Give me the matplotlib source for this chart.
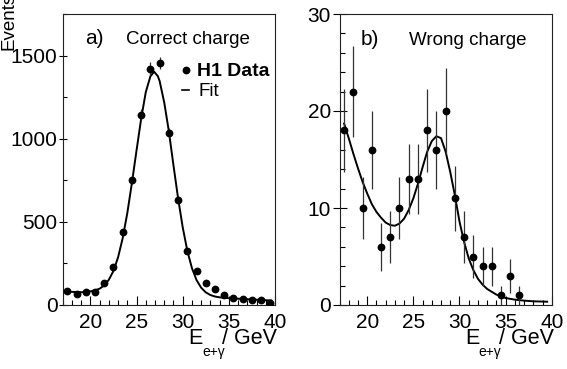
import matplotlib
matplotlib.use('Agg')
import matplotlib.pyplot as plt
from matplotlib.lines import Line2D
from matplotlib.ticker import MultipleLocator

plt.rcParams['font.family'] = ['Liberation Sans', 'DejaVu Sans']

# ---------------- data ----------------
# panel a) correct charge
x_a = [17.5, 18.5, 19.5, 20.5, 21.5, 22.5, 23.5, 24.5, 25.5, 26.5, 27.5, 28.5,
       29.5, 30.5, 31.5, 32.5, 33.5, 34.5, 35.5, 36.5, 37.5, 38.5, 39.5]
y_a = [84, 66, 76, 80, 132, 230, 436, 754, 1144, 1422, 1456, 1034,
       632, 326, 202, 134, 96, 58, 40, 36, 28, 28, 14]
err_a = [9.2, 8.1, 8.7, 8.9, 11.5, 15.2, 20.9, 27.5, 33.8, 37.7, 38.2, 32.2,
         25.1, 18.1, 14.2, 11.6, 9.8, 7.6, 6.3, 6.0, 5.3, 5.3, 3.7]
fit_a_x = [17.5, 18, 18.5, 19, 19.5, 20, 20.5, 21, 21.5, 22, 22.5, 23, 23.5, 24,
           24.5, 25, 25.5, 26, 26.5, 26.9, 27.3, 27.5, 28, 28.5, 29, 29.5, 30,
           30.5, 31, 31.5, 32, 32.5, 33, 33.5, 34, 35, 36, 37, 38, 39, 39.6]
fit_a_y = [80, 79, 78, 77, 77, 82, 88, 98, 118, 152, 205, 287, 402, 553,
           735, 930, 1120, 1280, 1375, 1403, 1377, 1347, 1218, 1045, 840, 642, 468,
           326, 222, 150, 104, 76, 60, 51, 46, 41, 38, 35, 32, 29, 27]

# panel b) wrong charge
x_b = [17.5, 18.5, 19.5, 20.5, 21.5, 22.5, 23.5, 24.5, 25.5, 26.5, 27.5, 28.5,
       29.5, 30.5, 31.5, 32.5, 33.5, 34.5, 35.5, 36.5]
y_b = [18, 22, 10, 16, 6, 7, 10, 13, 13, 18, 16, 20, 11, 7, 5, 4, 4, 1, 3, 1]
err_b = [4.24, 4.69, 3.16, 4.0, 2.45, 2.65, 3.16, 3.61, 3.61, 4.24, 4.0, 4.47,
         3.32, 2.65, 2.24, 2.0, 2.0, 1.0, 1.73, 1.0]
fit_b_x = [17.5, 18, 18.5, 19, 19.5, 20, 20.5, 21, 21.5, 22, 22.5, 23, 23.5, 24,
           24.5, 25, 25.5, 26, 26.5, 27, 27.5, 28, 28.5, 29, 29.5, 30, 30.5, 31,
           31.5, 32, 32.5, 33, 34, 35, 36, 37, 38, 39.5]
fit_b_y = [18.7, 17.2, 15.6, 14.1, 12.7, 11.5, 10.4, 9.6, 9.0, 8.5, 8.24, 8.17,
           8.4, 8.9, 9.8, 11.0, 12.5, 14.2, 15.8, 16.9, 17.4, 17.2, 15.8, 13.7,
           11.3, 8.6, 6.5, 4.8, 3.6, 2.7, 2.1, 1.65, 1.07, 0.72, 0.55, 0.45, 0.38, 0.34]

yticks_a = [0, 500, 1000, 1500]
yticks_b = [0, 10, 20, 30]
xticks = [20, 25, 30, 35, 40]

# ---------------- layout ----------------
W, H = 567, 369
fig = plt.figure(figsize=(W / 100, H / 100), dpi=100)


def fx(px):
    return px / W


def fy(py):
    return 1 - py / H


ax_a = fig.add_axes([fx(62.7), fy(305), 212.3 / W, 291 / H])
ax_b = fig.add_axes([fx(339.5), fy(305), 212.3 / W, 291 / H])


def style(ax, ylim, yticks, ymin, ymaj_len, ymin_len):
    ax.set_xlim(17, 40)
    ax.set_ylim(*ylim)
    ax.set_xticks(xticks)
    ax.set_yticks(yticks)
    ax.xaxis.set_minor_locator(MultipleLocator(1))
    ax.yaxis.set_minor_locator(MultipleLocator(ymin))
    ax.tick_params(axis='x', which='major', direction='in', length=6.3,
                   width=0.8, pad=6, labelsize=15)
    ax.tick_params(axis='x', which='minor', direction='in', length=3.4, width=0.8)
    ax.tick_params(axis='y', which='major', direction='inout', length=ymaj_len,
                   width=0.8, pad=0.8, labelsize=15)
    ax.tick_params(axis='y', which='minor', direction='in', length=ymin_len, width=0.8)
    for s in ax.spines.values():
        s.set_linewidth(0.8)
        s.set_color('#222222')


for ax, x, y, e, fxs, fys in [(ax_a, x_a, y_a, err_a, fit_a_x, fit_a_y),
                              (ax_b, x_b, y_b, err_b, fit_b_x, fit_b_y)]:
    ax.errorbar(x, y, yerr=e, fmt='o', color='black', ecolor='#333333',
                ms=4.6, elinewidth=0.9, capsize=0, zorder=3)
    ax.plot(fxs, fys, color='black', lw=1.4, zorder=2)

style(ax_a, (0, 1750), yticks_a, 250, 5.8, 2.9)
style(ax_b, (0, 30), yticks_b, 2, 10.5, 3.6)

# panel titles
fig.text(fx(85.5), fy(44), 'a)', fontsize=15, va='baseline', ha='left')
fig.text(fx(126), fy(44), 'Correct charge', fontsize=13.5, va='baseline', ha='left')
fig.text(fx(360.5), fy(45), 'b)', fontsize=15, va='baseline', ha='left')
fig.text(fx(409), fy(45), 'Wrong charge', fontsize=13.5, va='baseline', ha='left')

# legend (panel a)
fig.add_artist(Line2D([fx(186)], [fy(70)], marker='o', ms=4.6, color='black',
                      transform=fig.transFigure))
fig.text(fx(197), fy(76.5), 'H1 Data', fontsize=14, fontweight='bold',
         va='baseline', ha='left')
fig.add_artist(Line2D([fx(181.5), fx(188.5)], [fy(89.5), fy(89.5)], lw=1.2,
                      color='black', transform=fig.transFigure))
fig.text(fx(198), fy(96.5), 'Fit', fontsize=13.5, va='baseline', ha='left')

# axis titles: E with subscript e+γ, then "/ GeV"
for off in (0, 276.8):
    fig.text(fx(188 + off), fy(344), 'E', fontsize=15.5, ha='left', va='baseline')
    fig.text(fx(202 + off), fy(356), 'e+\u03b3', fontsize=10, ha='left',
             va='baseline')
    fig.text(fx(277 + off), fy(344), '/ GeV', fontsize=15.5, ha='right',
             va='baseline')

fig.text(fx(0.5), fy(50), 'Events', fontsize=13.5, rotation=90,
         rotation_mode='anchor', ha='left', va='top')

fig.savefig('out.png', dpi=100)
